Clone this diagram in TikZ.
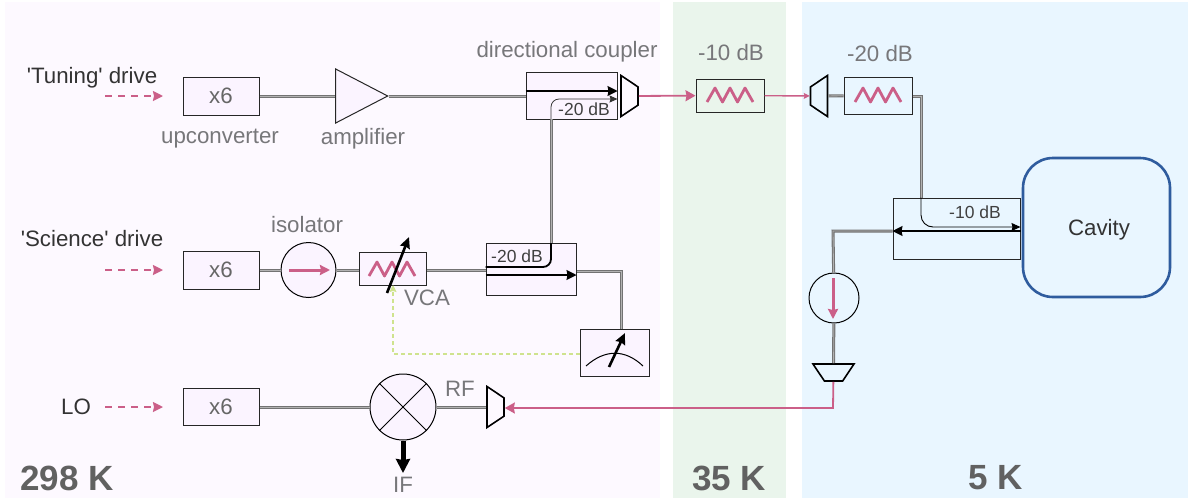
\documentclass[tikz,border=0pt]{standalone}
\usepackage{fontspec}
\setmainfont{Liberation Sans}
\usepackage{tikz}
\usetikzlibrary{shapes.geometric,arrows.meta}
\definecolor{warmbg}{HTML}{FDF9FF}
\definecolor{midbg}{HTML}{EAF5EC}
\definecolor{coldbg}{HTML}{E9F6FF}
\definecolor{signal}{HTML}{CB5F88}
\definecolor{cavblue}{HTML}{2F5C9E}
\definecolor{ctrl}{HTML}{CFE38E}
\definecolor{boxfill}{HTML}{FBF4FF}
\definecolor{labelgray}{HTML}{77777A}
\begin{document}
\begin{tikzpicture}[
    x=1pt, y=-1pt, >=Stealth,
    every node/.style={font=\fontsize{22.3}{26}\selectfont},
    lbl/.style={text=labelgray, inner sep=0pt},
    dark/.style={text=black!80, inner sep=0pt},
    temp/.style={text=black!62, inner sep=0pt, font=\fontsize{35}{40}\selectfont\bfseries},
    small/.style={text=black!75, inner sep=0pt, font=\fontsize{17.5}{20}\selectfont},
    block/.style={draw=black!85, line width=1pt, fill=boxfill, inner sep=0pt, text=black!60},
    round/.style={draw=black, line width=1pt, fill=boxfill, circle, inner sep=0pt, minimum size=#1},
    taper/.style={draw=black, line width=1.6pt, trapezium, trapezium angle=58, trapezium stretches=true,
        minimum width=41pt, minimum height=17pt, inner sep=1pt},
    coax/.style={draw=black!55, line width=3pt},
    coaxin/.style={draw=black!30, line width=.8pt},
    feed/.style={draw=signal, line width=1.8pt},
    needle/.style={draw=black, line width=2.6pt, -{Stealth[length=11pt,width=10pt,inset=1pt]}},
    zig/.pic={\draw[signal, line width=2.8pt, line join=round] (-23,7) -- (-15,-7) -- (-7.5,7) -- (0,-7) -- (7.5,7) -- (15,-7) -- (23,7);}
]
% temperature stages
\fill[warmbg] (5,2) rectangle (660,498);
\fill[midbg] (673,2) rectangle (786,498);
\fill[coldbg] (802,2) rectangle (1188,498);
\useasboundingbox (0,0) rectangle (1188,499);
\node[temp] (warm) at (67,478) {298 K};
\node[temp] (mid) at (729,478) {35 K};
\node[temp] (cold) at (996,478) {5 K};

% tuning line
\node[dark] (tuningtxt) at (92,77.5) {\textquotesingle Tuning\textquotesingle{} drive};
\node[block, minimum width=76pt, minimum height=38pt] (upA) at (221,96) {x6};
\node[lbl] (uptxt) at (220,139) {upconverter};
\node[draw=black!85, line width=1pt, fill=boxfill, isosceles triangle, isosceles triangle stretches,
    minimum width=54pt, minimum height=52pt, inner sep=1pt, anchor=apex] (amp) at (389,96) {};
\node[lbl] (amptxt) at (363,139) {amplifier};
\node[block, minimum width=91pt, minimum height=47pt] (dcA) at (571.5,95.5) {};
\node[lbl] (dctxt) at (567,51.5) {directional coupler};
\node[taper, rotate=-90] (tapA) at (629.5,96) {};
\node[block, fill=midbg, minimum width=68pt, minimum height=33pt] (attA) at (730,95.5) {};
\pic at (730,95) {zig};
\node[lbl] (attAtxt) at (731,53) {-10 dB};
\node[taper, rotate=90] (tapB) at (819,96) {};
\node[block, fill=coldbg, minimum width=68pt, minimum height=37pt] (attB) at (878,95.5) {};
\pic at (878,95) {zig};
\node[lbl] (attBtxt) at (880,54) {-20 dB};
\coordinate (tuningA) at (105,96);
\coordinate (tuningB) at (163,96);
\coordinate (cornerA) at (921,96);
\coordinate (linkA) at (551,119);
\coordinate (linkB) at (551,243);

% science line
\node[dark] (sciencetxt) at (92,239) {\textquotesingle Science\textquotesingle{} drive};
\node[block, minimum width=76pt, minimum height=38pt] (upB) at (221,270) {x6};
\node[round=55pt] (iso) at (308.5,270) {};
\node[lbl] (isotxt) at (307,225) {isolator};
\node[block, minimum width=67pt, minimum height=33pt] (vca) at (392.5,268.5) {};
\pic at (392,269) {zig};
\node[lbl] (vcatxt) at (427,298) {VCA};
\node[block, minimum width=90pt, minimum height=52pt] (dcB) at (531,269) {};
\node[block, minimum width=69pt, minimum height=47pt] (meter) at (614.5,352.5) {};
\coordinate (tuningC) at (105,270);
\coordinate (tuningD) at (163,270);
\coordinate (cornerB) at (621,271);
\coordinate (ctrlA) at (393,354);
\coordinate (ctrlB) at (393,285);
\coordinate (isoA) at (289,270);
\coordinate (isoB) at (330,270);
\coordinate (vcaA) at (387,293);
\coordinate (vcaB) at (409,237);

% LO line
\node[dark] (lotxt) at (76,407) {LO};
\node[block, minimum width=76pt, minimum height=37pt] (upC) at (221,407) {x6};
\node[round=66pt] (mix) at (403,407) {};
\node[lbl] (rftxt) at (460,389) {RF};
\node[lbl] (iftxt) at (403,485) {IF};
\node[taper, rotate=-90] (tapC) at (495.5,407) {};
\coordinate (tuningE) at (105,407);
\coordinate (tuningF) at (163,407);
\coordinate (ifend) at (403,473);

% cold stage
\node[draw=cavblue, line width=2.6pt, fill=coldbg, rounded corners=30pt, minimum width=147pt, minimum height=139pt,
    inner sep=0pt] (cav) at (1096.5,227.5) {};
\node[dark] (cavtxt) at (1099,229.5) {Cavity};
\node[block, fill=coldbg, minimum width=127pt, minimum height=61pt] (dcC) at (956.5,228.5) {};
\node[round=50pt, fill=coldbg] (isoC) at (834,298) {};
\node[taper, rotate=180] (tapD) at (833.5,372.5) {};
\coordinate (cornerC) at (833,231);
\coordinate (cornerD) at (833,408);
\coordinate (isoD) at (833,278);
\coordinate (isoE) at (833,319);

% coax runs
\foreach \st in {coax,coaxin}{
  \draw[\st] (upA) -- (amp);
  \draw[\st] (amp.apex) -- (dcA.west |- amp.apex);
  \draw[\st] (tapB) -- (attB);
  \draw[\st] (attB.east |- cornerA) -- (cornerA) -- (cornerA |- dcC.north);
  \draw[\st] (linkA) -- (linkB);
  \draw[\st] (upB) -- (iso);
  \draw[\st] (iso) -- (vca.west |- iso);
  \draw[\st] (vca.east |- iso) -- (dcB.west |- iso);
  \draw[\st] (dcB.east |- cornerB) -- (cornerB) -- (cornerB |- meter.north);
  \draw[\st] (upC) -- (mix);
  \draw[\st] (mix) -- (tapC);
  \draw[\st] (dcC.west |- cornerC) -- (cornerC) -- (isoC);
  \draw[\st] (isoC) -- (tapD);
}

% pink signal paths
\draw[feed, dashed, dash pattern=on 7pt off 6pt, -{Stealth[length=10pt,width=10pt,inset=1pt]}] (tuningA) -- (tuningB);
\draw[feed, dashed, dash pattern=on 7pt off 6pt, -{Stealth[length=10pt,width=10pt,inset=1pt]}] (tuningC) -- (tuningD);
\draw[feed, dashed, dash pattern=on 7pt off 6pt, -{Stealth[length=10pt,width=10pt,inset=1pt]}] (tuningE) -- (tuningF);
\draw[feed, -{Stealth[length=10pt,width=11pt,inset=1pt]}] (tapA) -- (attA);
\draw[feed, line width=1.4pt, -{Stealth[length=6pt,width=6pt,inset=1pt]}] (attA) -- (tapB);
\draw[feed, -{Stealth[length=10pt,width=11pt,inset=1pt]}] (tapD) -- (cornerD) -- (tapC.north |- cornerD);
\draw[signal, line width=3pt, -{Stealth[length=10pt,width=10pt,inset=1pt]}] (isoA) -- (isoB);
\draw[signal, line width=3pt, -{Stealth[length=10pt,width=10pt,inset=1pt]}] (isoD) -- (isoE);

% inside the couplers
\draw[black, line width=1.2pt, -{Stealth[length=10pt,width=10pt,inset=1pt]}] (dcA.west |- 0,91) -- (dcA.east |- 0,91);
\draw[black!80, line width=.8pt, rounded corners=8pt, -{Stealth[length=8pt,width=7pt,inset=1pt]}] (linkA) -- (551,99) -- (dcA.east |- 0,99);
\node[small] (dcAtxt) at (584,109) {-20 dB};
\draw[black, line width=1.8pt, rounded corners=8pt] (linkB) -- (551,267) -- (dcB.west |- 0,267);
\draw[black, line width=1.2pt, -{Stealth[length=10pt,width=10pt,inset=1pt]}] (dcB.west |- 0,275) -- (dcB.east |- 0,275);
\node[small] (dcBtxt) at (517,256) {-20 dB};
\draw[black, line width=.9pt, rounded corners=12pt, -{Stealth[length=9pt,width=8pt,inset=1pt]}] (cornerA |- dcC.north) -- (921,227) -- (dcC.east |- 0,227);
\draw[black, line width=1.2pt, -{Stealth[length=10pt,width=10pt,inset=1pt]}] (dcC.east |- 0,231) -- (dcC.west |- 0,231);
\node[small] (dcCtxt) at (975,212) {-10 dB};

% mixer, meter, needles
\draw[black, line width=1pt] (mix.north west) -- (mix.south east);
\draw[black, line width=1pt] (mix.south west) -- (mix.north east);
\draw[draw=black, line width=5pt, -{Stealth[length=14pt,width=14pt,inset=1pt]}] (mix.south) -- (ifend);
\draw[needle] (vcaA) -- (vcaB);
\draw[black, line width=1pt] (586,366) .. controls (605,349) and (625,349) .. (643,366);
\draw[needle] (609,367) -- (625,333);
\draw[ctrl, line width=1.3pt, dashed, dash pattern=on 4pt off 3pt, -{Stealth[length=7pt,width=7pt,inset=1pt]}] (meter.west |- ctrlA) -- (ctrlA) -- (ctrlB);
\end{tikzpicture}
\end{document}
